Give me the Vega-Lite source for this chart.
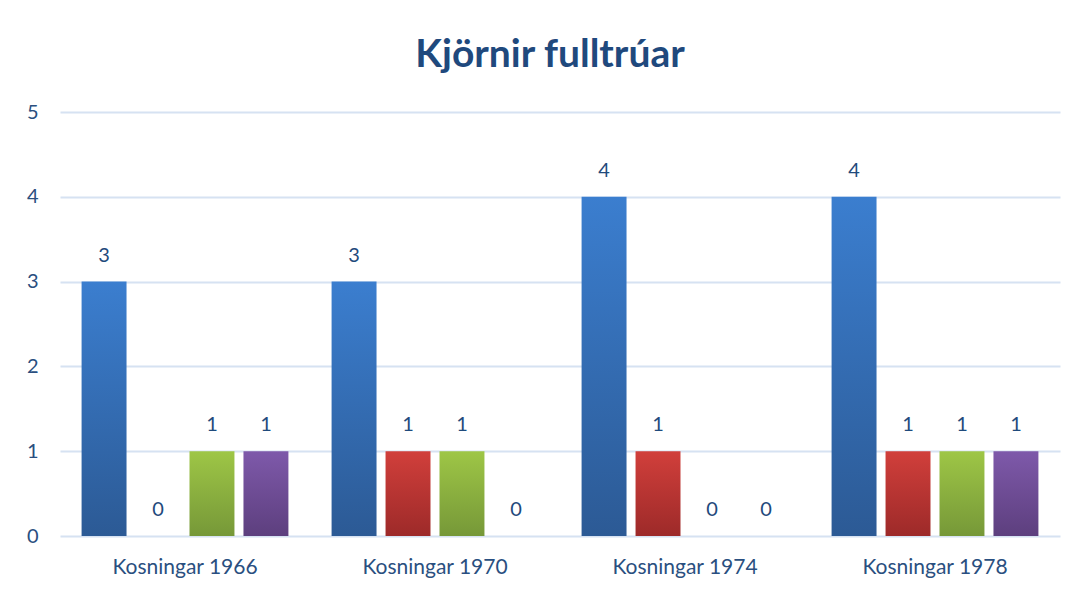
{
  "$schema": "https://vega.github.io/schema/vega-lite/v6.json",
  "width": 1000,
  "height": 424,
  "autosize": {"type": "none"},
  "padding": {"left": 60, "top": 112, "right": 19, "bottom": 59},
  "background": "white",
  "title": {
    "text": "Kjörnir fulltrúar",
    "font": "Lato",
    "fontSize": 39,
    "fontWeight": "bold",
    "color": "#1f497d",
    "anchor": "middle",
    "dx": -10,
    "offset": 27
  },
  "data": {
    "values": [
      {"election": "Kosningar 1966", "series": "A", "seats": 3},
      {"election": "Kosningar 1966", "series": "B", "seats": 0},
      {"election": "Kosningar 1966", "series": "C", "seats": 1},
      {"election": "Kosningar 1966", "series": "D", "seats": 1},
      {"election": "Kosningar 1970", "series": "A", "seats": 3},
      {"election": "Kosningar 1970", "series": "B", "seats": 1},
      {"election": "Kosningar 1970", "series": "C", "seats": 1},
      {"election": "Kosningar 1970", "series": "D", "seats": 0},
      {"election": "Kosningar 1974", "series": "A", "seats": 4},
      {"election": "Kosningar 1974", "series": "B", "seats": 1},
      {"election": "Kosningar 1974", "series": "C", "seats": 0},
      {"election": "Kosningar 1974", "series": "D", "seats": 0},
      {"election": "Kosningar 1978", "series": "A", "seats": 4},
      {"election": "Kosningar 1978", "series": "B", "seats": 1},
      {"election": "Kosningar 1978", "series": "C", "seats": 1},
      {"election": "Kosningar 1978", "series": "D", "seats": 1}
    ]
  },
  "encoding": {
    "x": {
      "field": "election",
      "type": "nominal",
      "scale": {"paddingInner": 0, "paddingOuter": 0},
      "axis": {
        "title": null,
        "labelAngle": 0,
        "ticks": false,
        "domain": false,
        "labelFont": "Lato",
        "labelFontSize": 21,
        "labelColor": "#2a4f80",
        "labelPadding": 20
      }
    },
    "xOffset": {
      "field": "series",
      "type": "nominal",
      "scale": {"domain": ["A", "B", "C", "D"], "paddingInner": 0.167, "paddingOuter": 0.4}
    },
    "y": {
      "field": "seats",
      "type": "quantitative",
      "scale": {"domain": [0, 5], "nice": false},
      "axis": {
        "title": null,
        "values": [0, 1, 2, 3, 4, 5],
        "labelOverlap": false,
        "ticks": false,
        "domain": false,
        "grid": true,
        "gridColor": "#d6e2f2",
        "gridWidth": 2,
        "labelFont": "Lato",
        "labelFontSize": 20,
        "labelColor": "#2a4f80",
        "labelPadding": 22
      }
    }
  },
  "layer": [
    {
      "transform": [{"filter": "datum.series === 'A'"}],
      "mark": {"type": "bar", "fill": {"gradient": "linear", "x1": 0, "y1": 0, "x2": 0, "y2": 1, "stops": [{"offset": 0, "color": "#3b7ecf"}, {"offset": 1, "color": "#2c5a95"}]}}
    },
    {
      "transform": [{"filter": "datum.series === 'B'"}],
      "mark": {"type": "bar", "fill": {"gradient": "linear", "x1": 0, "y1": 0, "x2": 0, "y2": 1, "stops": [{"offset": 0, "color": "#d13f3b"}, {"offset": 1, "color": "#9d2a29"}]}}
    },
    {
      "transform": [{"filter": "datum.series === 'C'"}],
      "mark": {"type": "bar", "fill": {"gradient": "linear", "x1": 0, "y1": 0, "x2": 0, "y2": 1, "stops": [{"offset": 0, "color": "#9ec646"}, {"offset": 1, "color": "#769838"}]}}
    },
    {
      "transform": [{"filter": "datum.series === 'D'"}],
      "mark": {"type": "bar", "fill": {"gradient": "linear", "x1": 0, "y1": 0, "x2": 0, "y2": 1, "stops": [{"offset": 0, "color": "#7e59aa"}, {"offset": 1, "color": "#5d3f7e"}]}}
    },
    {
      "mark": {"type": "text", "dy": -26, "font": "Lato", "fontSize": 20, "color": "#1f4a7c"},
      "encoding": {"text": {"field": "seats", "type": "quantitative"}}
    }
  ],
  "config": {"view": {"stroke": null}}
}
